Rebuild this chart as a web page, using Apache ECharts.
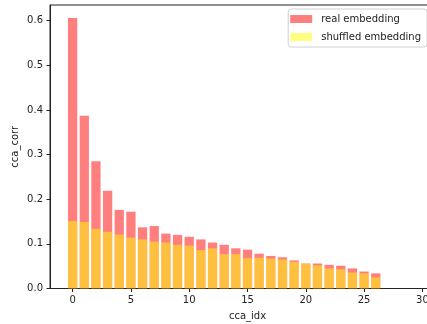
<!DOCTYPE html>
<html><head><meta charset="utf-8">
<script src="https://cdn.jsdelivr.net/npm/echarts@6/dist/echarts.min.js"></script>
<style>html,body{margin:0;padding:0;background:#fff;overflow:hidden}#c{width:446px;height:324px}</style>
</head><body><div id="c"></div>
<script>
const ccaIdx = [0,1,2,3,4,5,6,7,8,9,10,11,12,13,14,15,16,17,18,19,20,21,22,23,24,25,26];
const realCorr = [0.606,0.387,0.285,0.219,0.176,0.172,0.137,0.140,0.123,0.120,0.116,0.110,0.103,0.098,0.090,0.087,0.078,0.073,0.070,0.063,0.056,0.056,0.053,0.051,0.045,0.038,0.034];
const shuffledCorr = [0.151,0.149,0.134,0.127,0.121,0.114,0.110,0.105,0.103,0.098,0.096,0.086,0.090,0.077,0.077,0.068,0.069,0.067,0.065,0.060,0.055,0.052,0.045,0.043,0.036,0.034,0.025];
const xTicks = [0,5,10,15,20,25,30];
const yTicks = [0.0,0.1,0.2,0.3,0.4,0.5,0.6];

const font = 'DejaVu Sans';
const chart = echarts.init(document.getElementById('c'), null, {renderer:'canvas'});
chart.setOption({
  animation:false,
  backgroundColor:'#fff',
  grid:{left:50, top:5, width:395, height:283.5, outerBoundsMode:'none', containLabel:false,
    show:true, borderColor:'#222', borderWidth:1, backgroundColor:'transparent'},
  legend:{
    orient:'vertical', right:19, top:9,
    itemWidth:22, itemHeight:8, itemGap:8,
    padding:[5,6,5,2],
    borderColor:'#d0d0d0', borderWidth:1, borderRadius:3,
    backgroundColor:'rgba(255,255,255,0.8)',
    textStyle:{fontFamily:font, fontSize:10, color:'#222', padding:[0,0,0,4]},
    data:[{name:'real embedding', icon:'rect'},{name:'shuffled embedding', icon:'rect'}]
  },
  xAxis:{
    type:'value', min:-1.94, max:31.94, minInterval:5, maxInterval:5,
    name:'cca_idx', nameLocation:'middle', nameGap:23,
    nameTextStyle:{fontFamily:font, fontSize:10, color:'#222'},
    axisLine:{show:true, onZero:false, lineStyle:{color:'#222', width:1}},
    axisTick:{show:true, length:3.5, lineStyle:{color:'#222'}, customValues: xTicks},
    axisLabel:{fontFamily:font, fontSize:10, color:'#222', margin:7,
      customValues: xTicks, formatter:v=>String(v)},
    splitLine:{show:false}
  },
  yAxis:{
    type:'value', min:0, max:0.635, interval:0.1,
    name:'cca_corr', nameLocation:'middle', nameGap:30, nameRotate:90, nameMoveOverlap:false,
    nameTextStyle:{fontFamily:font, fontSize:10, color:'#222'},
    axisLine:{show:true, onZero:false, lineStyle:{color:'#222', width:1}},
    axisTick:{show:true, length:3.5, lineStyle:{color:'#222'}, customValues: yTicks},
    axisLabel:{fontFamily:font, fontSize:10, color:'#222', margin:7,
      customValues: yTicks, formatter:v=>v.toFixed(1)},
    splitLine:{show:false}
  },
  series:[
    {name:'real embedding', type:'bar', barWidth:9.3, barGap:'-100%',
     itemStyle:{color:'rgba(255,0,0,0.5)'},
     data: ccaIdx.map((x,i)=>[x, realCorr[i]])},
    {name:'shuffled embedding', type:'bar', barWidth:9.3, barGap:'-100%',
     itemStyle:{color:'rgba(255,255,0,0.5)'},
     data: ccaIdx.map((x,i)=>[x, shuffledCorr[i]])}
  ]
});
</script></body></html>
